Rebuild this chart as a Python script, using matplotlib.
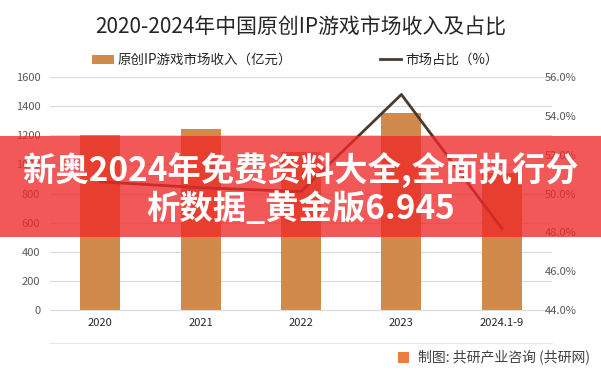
import matplotlib
matplotlib.use('Agg')
import numpy as np
from matplotlib import pyplot as plt
from matplotlib.patches import Rectangle, Patch
from matplotlib.lines import Line2D

plt.rcParams['font.family'] = ['Noto Sans CJK SC', 'DejaVu Sans']

years = ['2020', '2021', '2022', '2023', '2024.1-9']
revenue = [1200, 1245, 1088, 1350, 940]          # 亿元
share = [50.6, 50.3, 50.1, 55.1, 48.2]            # %
left_ticks = [0, 200, 400, 600, 800, 1000, 1200, 1400, 1600]
right_ticks = [44, 46, 48, 50, 52, 54, 56]

bar_color = '#D08A4C'
line_color = '#4A3A30'
tick_color = '#595959'

fig = plt.figure(figsize=(6.01, 3.74), dpi=100)
ax = fig.add_axes([50 / 601, 64 / 374, 502 / 601, 233 / 374])
ax2 = ax.twinx()

x = np.arange(len(years))
ax.bar(x, revenue, width=0.4, color=bar_color, zorder=2)
ax.set_xlim(-0.5, len(years) - 0.5)
ax.set_ylim(0, 1600)
ax.set_yticks(left_ticks)
ax.set_xticks(x)
ax.set_xticklabels(years, fontsize=8, color='#262626')
ax.tick_params(axis='y', labelsize=8, colors=tick_color, length=0, pad=7)
ax.tick_params(axis='x', length=0, pad=6)
ax.grid(axis='y', color='#D9D9D9', linewidth=0.8, zorder=0)
for s in ['top', 'right', 'left']:
    ax.spines[s].set_visible(False)
ax.spines['bottom'].set_color('#D9D9D9')

ax2.plot(x, share, color=line_color, linewidth=2, zorder=3)
ax2.set_ylim(44, 56)
ax2.set_yticks(right_ticks)
ax2.set_yticklabels([f'{v:.1f}%' for v in right_ticks])
ax2.tick_params(axis='y', labelsize=8, colors=tick_color, length=0, pad=-5)
for s in ['top', 'right', 'left', 'bottom']:
    ax2.spines[s].set_visible(False)
for lbl in ax2.get_yticklabels():
    lbl.set_horizontalalignment('left')

fig.text(0.5, 1 - 28 / 374, '2020-2024年中国原创IP游戏市场收入及占比',
         ha='center', va='center', fontsize=15, color='#262626')

handles = [Patch(facecolor=bar_color, edgecolor='none'),
           Line2D([0], [0], color=line_color, linewidth=2)]
fig.legend(handles, ['原创IP游戏市场收入（亿元）', '市场占比（%）'],
           loc='center left', bbox_to_anchor=(80 / 601, 1 - 60 / 374), ncol=2,
           frameon=False, fontsize=9.7, columnspacing=6.5,
           handlelength=1.6, handletextpad=0.3, labelcolor='#262626')

# bottom separator and source
fig.add_artist(Line2D([50 / 601, 552 / 601], [1 - 343 / 374] * 2,
                      color='#E6E6E6', linewidth=0.8))
fig.add_artist(Rectangle((398 / 601, 1 - 363 / 374), 11 / 601, 11 / 374,
                         facecolor='#EE7B3F', edgecolor='none'))
fig.text(590 / 601, 1 - 357 / 374, '制图: 共研产业咨询 (共研网)',
         ha='right', va='center', fontsize=10, color='#404040')

# red overlay banner
fig.add_artist(Rectangle((0, 1 - 237 / 374), 1, 101 / 374,
                         facecolor=(0.94, 0.16, 0.16), alpha=0.78,
                         edgecolor='none', zorder=10))
fig.text(0.5, 1 - 171 / 374, '新奥2024年免费资料大全,全面执行分',
         ha='center', va='center', fontsize=24, color='white',
         fontweight='bold', zorder=11)
fig.text(0.5, 1 - 209 / 374, '析数据_黄金版6.945',
         ha='center', va='center', fontsize=24, color='white',
         fontweight='bold', zorder=11)

plt.savefig('out.png', dpi=100)
